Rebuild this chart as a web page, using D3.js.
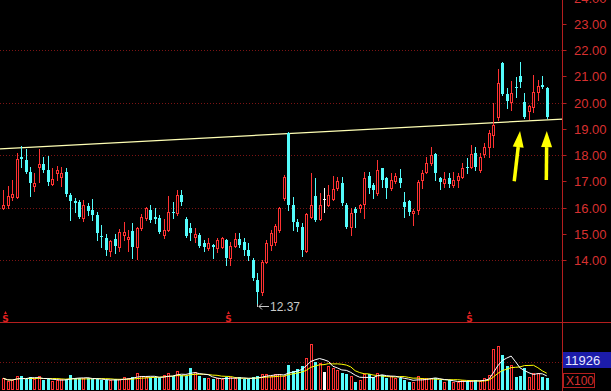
<!DOCTYPE html>
<html>
<head>
<meta charset="utf-8">
<script src="https://cdn.jsdelivr.net/npm/d3@7/dist/d3.min.js"></script>
<style>
    html, body { margin: 0; padding: 0; background: #000; overflow: hidden; }
    svg { display: block; }
</style>
</head>
<body>
<div id="chart"></div>
<script>
'use strict';

// daily candles, oldest first
const opens = [
    15.98, 16.10, 16.40, 16.40, 17.92, 17.81, 17.35, 16.82, 17.54, 17.66,
    17.43, 16.90, 17.31, 17.16, 17.35, 16.48, 16.25, 16.21, 15.60, 16.06,
    15.90, 15.71, 14.91, 14.84, 14.34, 14.80, 14.50, 14.95, 14.80, 15.10,
    14.50, 15.22, 15.60, 15.90, 15.64, 15.60, 14.95, 15.14, 15.83, 15.79,
    16.48, 15.56, 15.22, 14.88, 14.95, 14.65, 14.46, 14.57, 14.46, 14.50,
    14.76, 14.08, 14.53, 14.80, 14.69, 14.38, 14.00, 13.24, 12.78, 13.92,
    14.57, 14.69, 15.14, 16.36, 18.84, 16.10, 15.45, 15.26, 14.34, 15.64,
    16.44, 15.56, 16.32, 16.10, 16.32, 16.74, 16.93, 16.10, 15.26, 15.94,
    15.98, 16.13, 17.20, 16.86, 16.55, 17.50, 17.12, 16.74, 17.01, 17.12,
    16.21, 16.25, 15.79, 15.90, 17.05, 17.35, 17.70, 18.04, 17.12, 16.93,
    17.12, 16.86, 17.05, 17.16, 17.54, 17.54, 18.08, 17.43, 18.04, 18.30,
    18.76, 19.45, 21.50, 20.32, 20.02, 20.59, 21.01, 20.02, 19.68, 19.83,
    20.40, 20.67, 20.55
];
const highs = [
    16.67, 16.82, 17.05, 18.08, 18.34, 18.23, 17.54, 17.31, 18.23, 17.92,
    17.96, 17.50, 17.58, 17.54, 17.50, 16.55, 16.36, 16.29, 16.29, 16.17,
    16.32, 15.83, 15.33, 14.99, 14.76, 14.99, 15.18, 15.45, 15.14, 15.41,
    15.26, 15.75, 16.02, 16.10, 15.98, 15.71, 15.56, 16.44, 16.21, 16.67,
    16.67, 15.64, 15.41, 15.22, 15.03, 14.76, 14.84, 14.60, 14.84, 14.88,
    14.80, 14.69, 15.03, 15.03, 14.84, 14.65, 14.08, 13.50, 14.00, 14.76,
    15.14, 15.37, 16.02, 17.24, 18.88, 16.40, 15.56, 15.41, 15.79, 17.31,
    17.12, 16.55, 16.74, 16.86, 17.20, 17.16, 17.16, 16.17, 15.98, 16.02,
    16.12, 17.35, 17.35, 16.93, 17.81, 17.52, 17.16, 17.31, 17.31, 17.47,
    16.59, 16.29, 15.94, 17.05, 17.43, 17.92, 18.30, 18.08, 17.16, 17.35,
    17.31, 17.35, 17.31, 17.70, 17.89, 18.38, 18.30, 18.08, 18.46, 18.95,
    19.98, 21.28, 21.54, 20.55, 20.80, 20.97, 21.54, 20.36, 19.90, 21.05,
    20.86, 21.01, 20.59
];
const lows = [
    15.95, 15.98, 16.29, 16.36, 17.54, 17.31, 16.44, 16.63, 16.97, 17.35,
    16.86, 16.86, 17.05, 16.82, 16.44, 15.52, 15.83, 15.60, 15.49, 15.71,
    15.52, 14.76, 14.50, 14.19, 14.15, 14.27, 14.34, 14.76, 14.34, 14.08,
    14.04, 15.14, 15.52, 15.45, 15.41, 15.03, 14.84, 15.10, 15.60, 15.71,
    16.10, 14.88, 14.76, 14.69, 14.50, 14.34, 14.38, 14.08, 14.30, 14.46,
    13.81, 13.81, 14.50, 14.50, 14.19, 14.00, 13.24, 12.37, 12.67, 13.89,
    14.38, 14.57, 15.07, 16.29, 15.90, 15.14, 15.10, 14.15, 14.30, 15.60,
    15.49, 15.52, 15.83, 16.06, 16.29, 16.67, 16.10, 15.22, 14.95, 15.26,
    15.83, 15.60, 16.55, 16.36, 16.48, 16.78, 16.36, 16.67, 16.93, 16.78,
    15.64, 15.71, 15.33, 15.75, 16.74, 17.31, 17.62, 17.05, 16.70, 16.78,
    16.78, 16.78, 16.78, 17.12, 17.31, 17.50, 17.43, 17.35, 17.92, 17.92,
    18.30, 19.33, 20.29, 19.79, 19.71, 20.21, 20.59, 19.41, 19.37, 19.64,
    20.10, 20.55, 19.41
];
const closes = [
    16.10, 16.44, 16.51, 17.85, 17.85, 17.35, 16.93, 16.93, 17.66, 17.43,
    16.97, 17.09, 17.43, 17.31, 16.51, 16.25, 16.17, 15.64, 16.10, 15.87,
    15.71, 15.03, 14.88, 14.38, 14.72, 14.53, 15.07, 15.07, 14.88, 14.50,
    15.22, 15.64, 15.98, 15.52, 15.56, 15.07, 15.14, 15.83, 15.79, 16.48,
    16.21, 14.91, 15.03, 14.99, 14.53, 14.50, 14.65, 14.50, 14.76, 14.84,
    14.08, 14.53, 14.80, 14.57, 14.38, 14.15, 13.31, 12.78, 13.92, 14.65,
    15.03, 15.30, 15.98, 17.16, 16.10, 15.45, 15.26, 14.38, 15.75, 16.10,
    15.52, 16.10, 16.32, 16.48, 16.70, 17.01, 16.17, 15.26, 15.79, 15.79,
    16.10, 17.12, 16.74, 16.67, 17.43, 17.05, 16.74, 17.05, 17.20, 16.93,
    16.02, 15.83, 15.87, 16.97, 17.31, 17.70, 18.00, 17.31, 16.97, 17.09,
    16.90, 17.05, 17.20, 17.50, 17.50, 18.04, 17.54, 17.92, 18.30, 18.84,
    19.14, 20.74, 20.32, 20.06, 20.36, 20.55, 20.78, 19.45, 19.87, 20.40,
    20.63, 20.59, 19.45
];
// volume in lots of 100 shares
const volumes = [
    4800, 3500, 3900, 5700, 5700, 4400, 5200, 4400, 5700, 3900,
    4400, 3500, 3900, 4400, 4400, 6100, 4800, 4800, 4800, 4800,
    4400, 4400, 3900, 3900, 3900, 4400, 4400, 5200, 4800, 5200,
    7000, 5700, 5200, 5200, 5200, 4800, 6100, 7000, 5700, 7900,
    6100, 5700, 9200, 7400, 5700, 4800, 4800, 4400, 4800, 4400,
    5200, 5200, 4800, 5200, 4400, 4400, 5200, 5700, 6600, 6600,
    5700, 6600, 6600, 5700, 10500, 7900, 8700, 10000, 13500, 19700,
    11800, 11400, 7400, 10000, 9200, 8300, 7000, 6600, 5700, 3100,
    3900, 6600, 6600, 5200, 7000, 6100, 4800, 5700, 4800, 4800,
    3900, 3100, 3100, 5700, 4800, 4800, 4800, 4800, 3900, 3100,
    3900, 3100, 3100, 3900, 3500, 3900, 3900, 3500, 4800, 6100,
    17500, 18800, 14900, 10000, 10500, 5200, 5700, 9200, 5200, 7000,
    7000, 5200, 4800
];

const priceTicks = [14, 15, 16, 17, 18, 19, 20, 21, 22, 23, 24];
const priceGrid = [14, 16, 18, 20, 22];
const volumeGrid = 11926;
const volumeUnit = "X100";
const monthMarks = [1, 51, 105];
const lowIndex = 57;
const trendPrices = [18.23, 19.37];   // at left edge and right edge of the plot
const arrowMarks = [
    {tailIdx: 114.7, tailPrice: 17.0, tipIdx: 116, tipPrice: 18.91},
    {tailIdx: 121.9, tailPrice: 17.05, tipIdx: 122, tipPrice: 18.91}
];

const RED = "#ff3232";
const CYAN = "#54fcfc";
const AXIS = "#b41e1e";
const GRID = "#7c1414";
const LABEL = "#d83030";

const width = 611, height = 391;
const plotRight = 562.5;
const sepY = 322.5;
const volBase = 389.5;

let svg = d3.select("#chart").append("svg")
    .attr("width", width)
    .attr("height", height)
    .style("background", "#000")
;

let n = opens.length;
let x = d3.scaleBand().domain(d3.range(n)).range([1, 549]);
let xi = d3.scaleLinear().domain([0, n - 1])
    .range([x(0) + x.bandwidth() / 2, x(n - 1) + x.bandwidth() / 2]);
let y = d3.scaleLinear().domain([14, 22]).range([260, 50]);
let yv = d3.scaleLinear().domain([0, volumeGrid]).range([volBase, 361.7]);

function cx(i) {
    return Math.round(x(i) + x.bandwidth() / 2);
}

function colorOf(i) {
    if (closes[i] > opens[i]) return RED;
    if (closes[i] < opens[i]) return CYAN;
    return "#ffffff";
}

// grid lines
let grid = svg.append("g").attr("class", "grid");
grid.selectAll("line.pg").data(priceGrid).enter()
    .append("line")
    .attr("class", "pg")
    .attr("x1", 0).attr("x2", plotRight - 1)
    .attr("y1", d => Math.round(y(d)) + 0.5)
    .attr("y2", d => Math.round(y(d)) + 0.5)
    .style("stroke", GRID)
    .style("stroke-dasharray", "1,2")
;
grid.append("line")
    .attr("x1", 0).attr("x2", plotRight - 1)
    .attr("y1", Math.round(yv(volumeGrid)) + 0.5)
    .attr("y2", Math.round(yv(volumeGrid)) + 0.5)
    .style("stroke", GRID)
    .style("stroke-dasharray", "1,2")
;

// trend line
svg.append("line")
    .attr("x1", 0).attr("x2", plotRight)
    .attr("y1", y(trendPrices[0]))
    .attr("y2", y(trendPrices[1]))
    .style("stroke", "#ffffb4")
    .style("stroke-width", 1.2)
;

// candles
let candles = svg.selectAll(".candle").data(d3.range(n)).enter()
    .append("g")
    .attr("class", "candle")
;

candles.append("line")
    .attr("x1", i => cx(i) + 0.5).attr("x2", i => cx(i) + 0.5)
    .attr("y1", i => Math.round(y(highs[i])))
    .attr("y2", i => Math.round(y(lows[i])) + 1)
    .style("stroke", colorOf)
;

candles.each(function (i) {
    let g = d3.select(this);
    let top = Math.round(y(Math.max(opens[i], closes[i])));
    let bot = Math.round(y(Math.min(opens[i], closes[i])));
    if (closes[i] > opens[i]) {
        g.append("rect")
            .attr("x", cx(i) - 0.5)
            .attr("y", top + 0.5)
            .attr("width", 2)
            .attr("height", Math.max(bot - top, 1))
            .style("fill", "#000")
            .style("stroke", RED)
        ;
    } else {
        g.append("rect")
            .attr("x", cx(i) - 1)
            .attr("y", top)
            .attr("width", 3)
            .attr("height", Math.max(bot - top, 1))
            .style("fill", colorOf(i))
        ;
    }
});

// low marker
let lx = cx(lowIndex), ly = Math.round(y(lows[lowIndex]));
let lowMark = svg.append("g").style("stroke", "#c8c8c8").style("fill", "none");
lowMark.append("line")
    .attr("x1", lx + 0.5).attr("x2", lx + 0.5)
    .attr("y1", ly + 1).attr("y2", ly + 4)
;
lowMark.append("path")
    .attr("d", "M" + (lx + 2) + "," + (ly + 3.5) + "H" + (lx + 12)
        + "M" + (lx + 5) + "," + (ly + 0.5) + "L" + (lx + 2) + "," + (ly + 3.5) + "L" + (lx + 5) + "," + (ly + 6.5))
;
svg.append("text")
    .attr("x", lx + 13)
    .attr("y", ly + 8)
    .style("font-family", "'Liberation Sans', Arial, sans-serif")
    .style("font-size", "12px")
    .style("fill", "#c8c8c8")
    .text(lows[lowIndex].toFixed(2))
;

// month marks
let marks = svg.selectAll(".smark").data(monthMarks).enter()
    .append("g")
    .attr("class", "smark")
    .attr("transform", d => "translate(" + (Math.round(x(d)) + 0.5) + ",0)")
;
marks.append("path")
    .attr("d", "M0," + 311 + "L-1.5," + 314 + "H1.5Z")
    .style("fill", "#e02020")
;
marks.append("text")
    .attr("y", 321.5)
    .attr("text-anchor", "middle")
    .style("font-family", "'DejaVu Sans', sans-serif")
    .style("font-weight", "bold")
    .style("font-size", "9px")
    .style("fill", "#e02020")
    .text("S")
;

// yellow arrows
arrowMarks.forEach(function (a) {
    let x0 = xi(a.tailIdx), y0 = y(a.tailPrice);
    let x1 = xi(a.tipIdx), y1 = y(a.tipPrice);
    let len = Math.hypot(x1 - x0, y1 - y0);
    let ux = (x1 - x0) / len, uy = (y1 - y0) / len;
    let head = 16, half = 5.5;
    let bx = x1 - ux * head, by = y1 - uy * head;
    svg.append("line")
        .attr("x1", x0).attr("y1", y0)
        .attr("x2", bx).attr("y2", by)
        .style("stroke", "#ffff00")
        .style("stroke-width", 3.5)
    ;
    svg.append("path")
        .attr("d", "M" + x1 + "," + y1
            + "L" + (bx - uy * half) + "," + (by + ux * half)
            + "L" + (bx + uy * half) + "," + (by - ux * half) + "Z")
        .style("fill", "#ffff00")
    ;
});

// volume bars
let vols = svg.selectAll(".vol").data(d3.range(n)).enter()
    .append("rect")
    .attr("class", "vol")
;
vols.each(function (i) {
    let top = Math.round(yv(volumes[i]));
    let r = d3.select(this);
    if (closes[i] > opens[i]) {
        r.attr("x", cx(i) - 0.5).attr("y", top + 0.5)
            .attr("width", 2).attr("height", volBase - top - 0.5)
            .style("fill", "#000").style("stroke", RED);
    } else {
        r.attr("x", cx(i) - 1).attr("y", top)
            .attr("width", 3).attr("height", volBase - top + 0.5)
            .style("fill", colorOf(i));
    }
});

// volume moving averages
function movingAvg(arr, k) {
    return arr.map((v, i) => d3.mean(arr.slice(Math.max(0, i - k + 1), i + 1)));
}
let maLine = d3.line()
    .x((d, i) => xi(i))
    .y(d => yv(d))
;
svg.append("path")
    .attr("d", maLine(movingAvg(volumes, 10)))
    .style("fill", "none")
    .style("stroke", "#ffff00")
;
svg.append("path")
    .attr("d", maLine(movingAvg(volumes, 5)))
    .style("fill", "none")
    .style("stroke", "#ffffff")
;

// frame lines
svg.append("line")
    .attr("x1", plotRight).attr("x2", plotRight)
    .attr("y1", 0).attr("y2", height)
    .style("stroke", AXIS)
;
svg.append("line")
    .attr("x1", 0).attr("x2", width)
    .attr("y1", sepY).attr("y2", sepY)
    .style("stroke", AXIS)
;

// price axis
let axis = svg.append("g").attr("class", "axis");
axis.selectAll("line").data(priceTicks).enter()
    .append("line")
    .attr("x1", plotRight).attr("x2", plotRight + 4)
    .attr("y1", d => Math.round(y(d)) + 0.5)
    .attr("y2", d => Math.round(y(d)) + 0.5)
    .style("stroke", AXIS)
;
axis.selectAll("text").data(priceTicks).enter()
    .append("text")
    .attr("x", 574)
    .attr("y", d => y(d) + 5)
    .style("font-family", "'Liberation Sans', Arial, sans-serif")
    .style("font-size", "13px")
    .style("fill", LABEL)
    .text(d => d.toFixed(2))
;

// volume labels
let vy = yv(volumeGrid);
svg.append("rect")
    .attr("x", 563).attr("y", Math.round(vy) - 10)
    .attr("width", 48).attr("height", 16)
    .style("fill", "#1c1caa")
;
svg.append("text")
    .attr("x", 565).attr("y", Math.round(vy) + 3)
    .style("font-family", "'Liberation Sans', Arial, sans-serif")
    .style("font-size", "13px")
    .style("fill", "#e8e8ff")
    .text(volumeGrid)
;
svg.append("rect")
    .attr("x", 563.5).attr("y", 373.5)
    .attr("width", 31).attr("height", 14)
    .style("fill", "none")
    .style("stroke", AXIS)
;
svg.append("text")
    .attr("x", 566).attr("y", 385)
    .style("font-family", "'Liberation Sans', Arial, sans-serif")
    .style("font-size", "12px")
    .style("fill", LABEL)
    .text(volumeUnit)
;
</script>
</body>
</html>
